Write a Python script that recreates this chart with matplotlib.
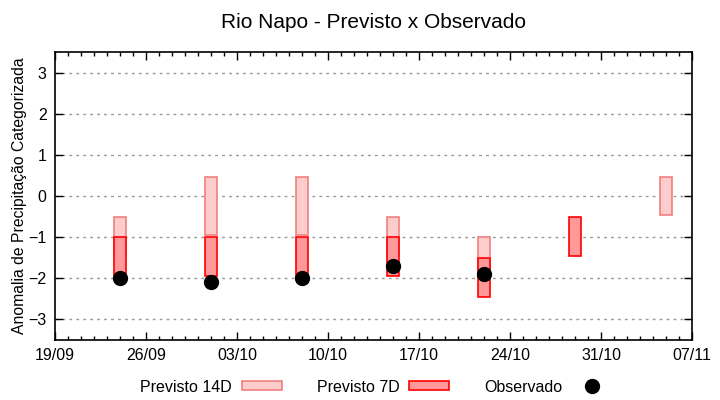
import numpy as np
import matplotlib
matplotlib.use("Agg")
import matplotlib.pyplot as plt
import matplotlib.dates as mdates
from matplotlib.patches import Patch
from matplotlib.lines import Line2D
import datetime as dt

plt.rcParams['font.family'] = ['Liberation Sans', 'DejaVu Sans']

# forecast dates (weekly)
dates = ["2020-09-24", "2020-10-01", "2020-10-08", "2020-10-15",
         "2020-10-22", "2020-10-29", "2020-11-05"]

# Previsto 14D box (top, bottom)
p14_top = [-0.5, 0.45, 0.45, -0.5, -1.0, np.nan, 0.45]
p14_bot = [-1.45, -0.95, -0.95, -1.45, -1.95, np.nan, -0.45]

# Previsto 7D box (top, bottom)
p7_top = [-1.0, -1.0, -1.0, -1.0, -1.5, -0.5, np.nan]
p7_bot = [-1.95, -1.95, -1.95, -1.95, -2.45, -1.45, np.nan]

# Observado
obs = [-2.0, -2.1, -2.0, -1.7, -1.9, np.nan, np.nan]

x = [dt.datetime.strptime(d, "%Y-%m-%d") for d in dates]
p14_top = np.array(p14_top); p14_bot = np.array(p14_bot)
p7_top = np.array(p7_top); p7_bot = np.array(p7_bot)

c14_face, c14_edge = "#ffcccc", "#f08080"
c7_face, c7_edge = "#ff9999", "#ff0000"

fig = plt.figure(figsize=(7.2, 4), dpi=100)
ax = fig.add_axes([55/720, 60/400, 637/720, 288/400])

w = 0.95
ax.bar(x, p14_top - p14_bot, bottom=p14_bot, width=w, color=c14_face,
       edgecolor=c14_edge, linewidth=1.2, zorder=2)
ax.bar(x, p7_top - p7_bot, bottom=p7_bot, width=w, color=c7_face,
       edgecolor=c7_edge, linewidth=1.2, zorder=3)
ax.plot(x, obs, 'o', color='black', markersize=10, zorder=4)

start = dt.datetime(2020, 9, 19)
ax.set_ylim(-3.5, 3.5)
ax.set_yticks([-3, -2, -1, 0, 1, 2, 3])
ax.set_xlim(start, dt.datetime(2020, 11, 7))
ax.set_xticks([start + dt.timedelta(days=7*i) for i in range(8)])
ax.set_xticks([start + dt.timedelta(days=i) for i in range(50)], minor=True)
ax.xaxis.set_major_formatter(mdates.DateFormatter("%d/%m"))

ax.tick_params(which='both', direction='in', top=True, right=True, labelsize=11.5,
               width=1, color='black')
ax.tick_params(which='major', length=6, pad=6)
ax.tick_params(which='minor', length=3)
ax.tick_params(axis='y', which='minor', left=False, right=False)
for s in ax.spines.values():
    s.set_linewidth(1.2)

ax.yaxis.grid(True, linestyle=(0, (2, 3)), color='#999999', linewidth=1, zorder=0)
ax.set_axisbelow(True)

ax.set_ylabel("Anomalia de Precipitação Categorizada", fontsize=11.3, labelpad=1)
ax.set_title("Rio Napo - Previsto x Observado", fontsize=15, pad=17)

handles = [Patch(facecolor=c14_face, edgecolor=c14_edge, linewidth=1.2),
           Patch(facecolor=c7_face, edgecolor=c7_edge, linewidth=1.2),
           Line2D([], [], marker='o', color='black', linestyle='none', markersize=10)]
fig.legend(handles, ["Previsto 14D", "Previsto 7D", "Observado"], loc='center',
           bbox_to_anchor=(376/720, 1 - 387/400), ncol=3, frameon=False,
           markerfirst=False, fontsize=11.5, handlelength=2.5, handleheight=0.5,
           columnspacing=2.2, handletextpad=0.6)

fig.savefig("out.png", dpi=100)
